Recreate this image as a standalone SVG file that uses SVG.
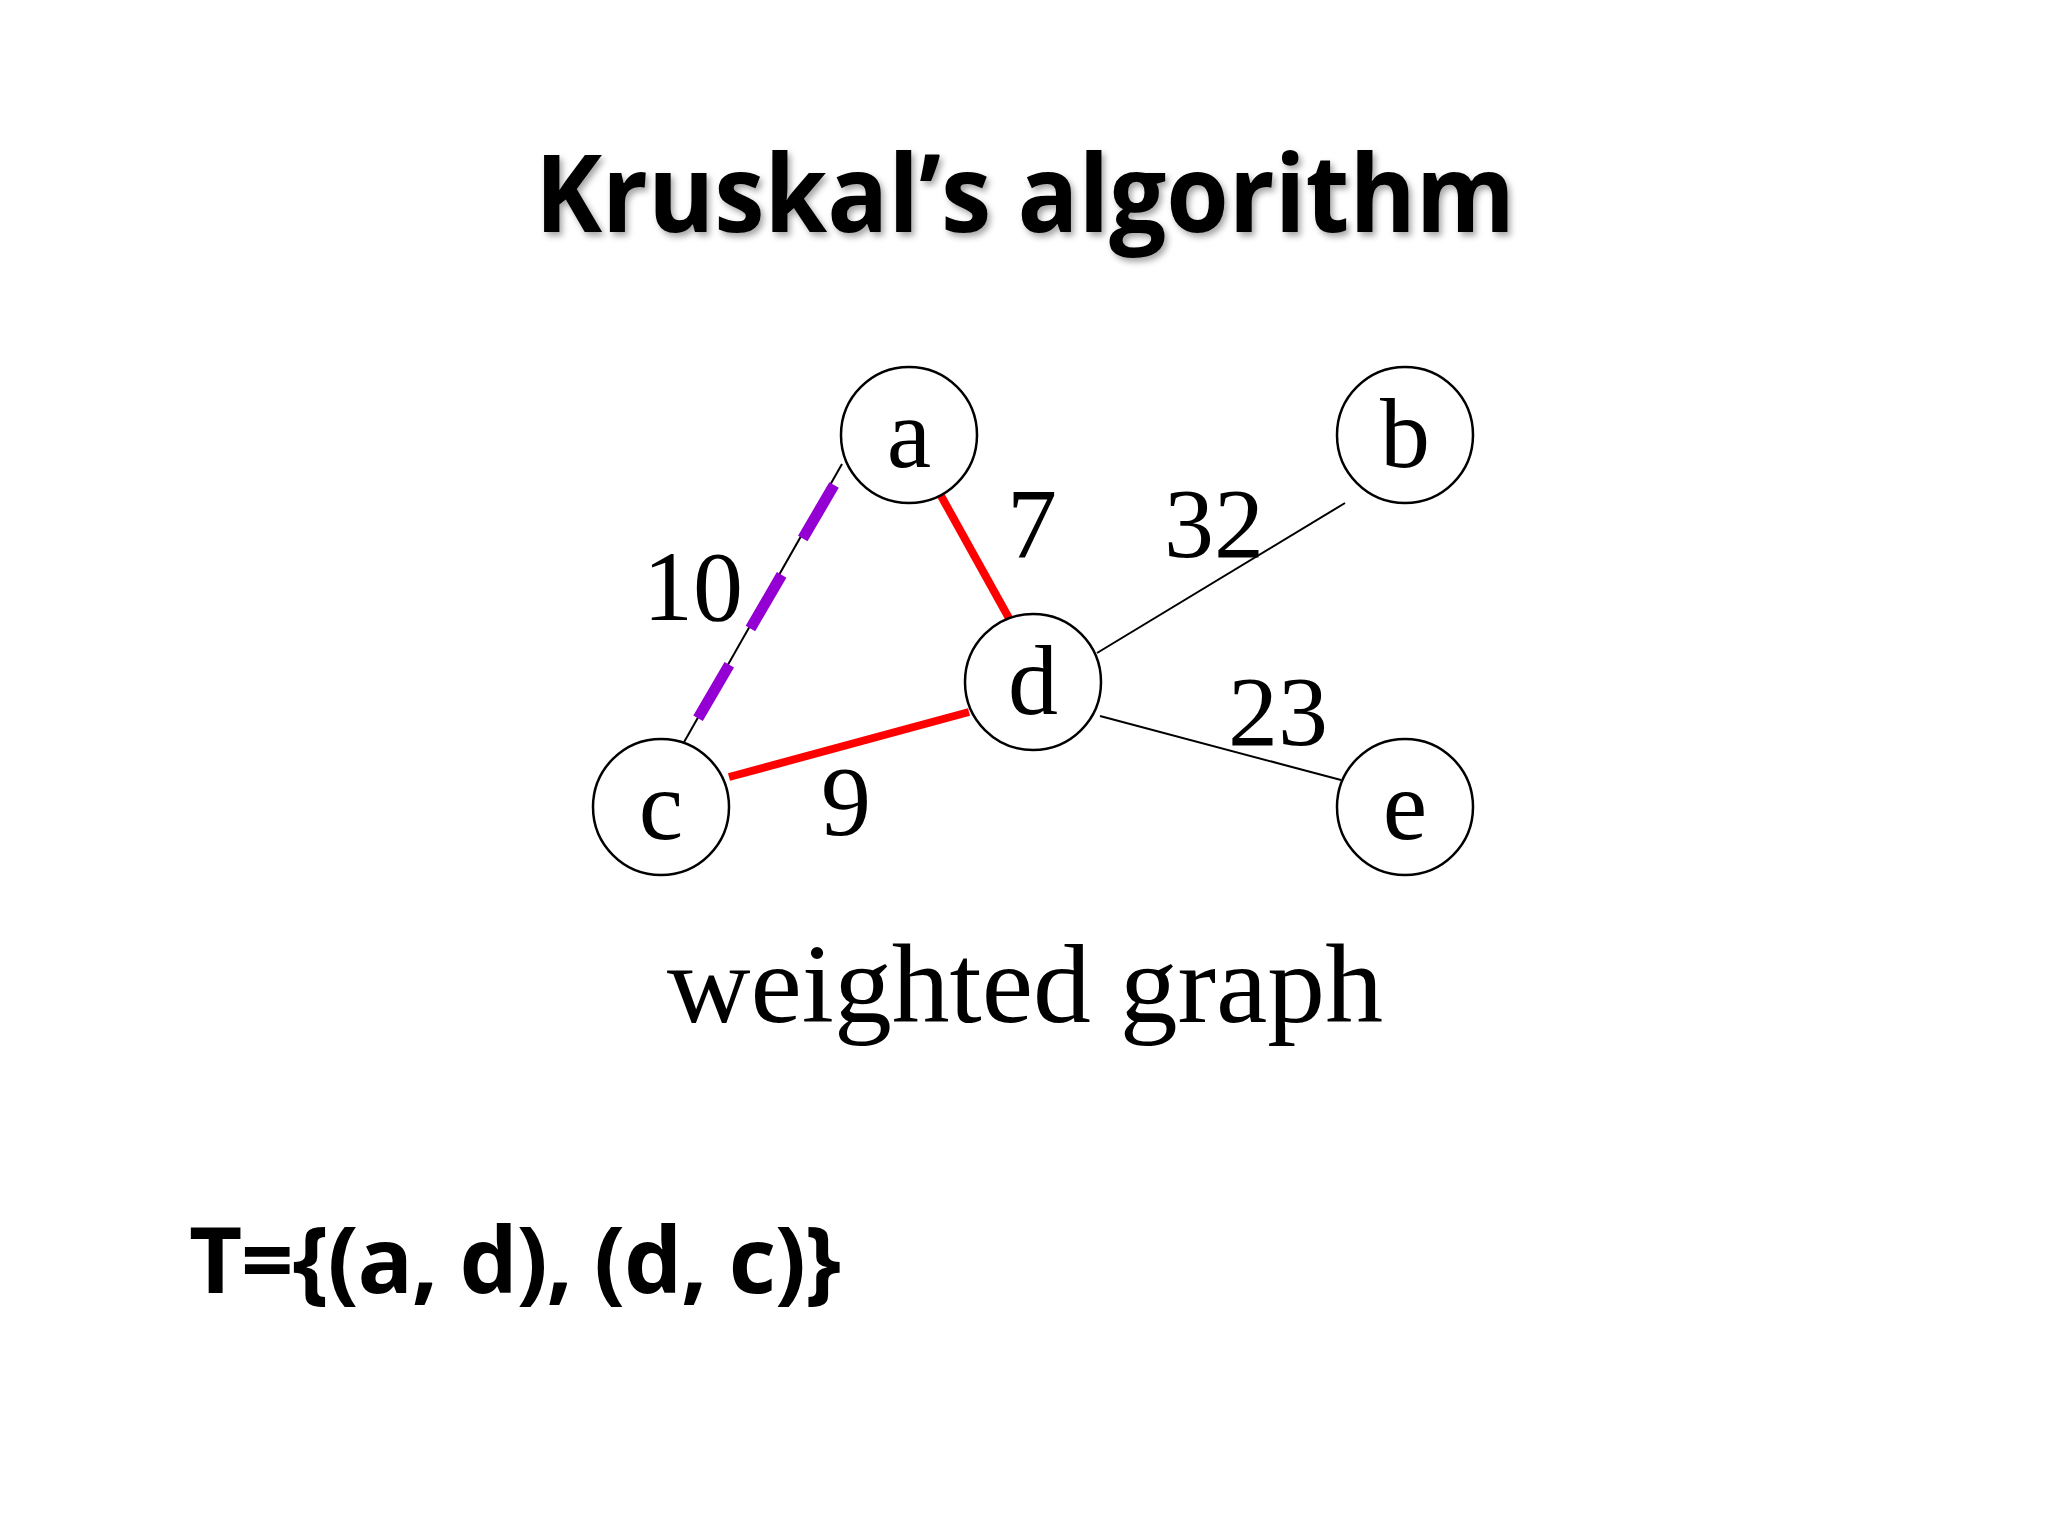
<svg xmlns="http://www.w3.org/2000/svg" width="2048" height="1536" viewBox="0 0 2048 1536">
<defs>
<style>
.node{fill:#fff;stroke:#000;stroke-width:2.5}
.nl{font-family:"Liberation Serif",serif;font-size:100px;text-anchor:middle}
.w{font-family:"Liberation Serif",serif;font-size:100px;text-anchor:middle}
.thin{stroke:#000;stroke-width:2;fill:none}
.red{stroke:#f00;stroke-width:8;fill:none}
</style>
<filter id="sh"><feDropShadow dx="3" dy="4" stdDeviation="3" flood-color="#000" flood-opacity="0.35"/></filter>
</defs>
<rect width="2048" height="1536" fill="#fff"/>
<text x="1025" y="232" font-family="'Open Sans',sans-serif" font-weight="bold" font-size="108" text-anchor="middle" textLength="980" lengthAdjust="spacingAndGlyphs" filter="url(#sh)">Kruskal’s algorithm</text>
<g id="connectors">
<line class="thin" x1="842" y1="464" x2="679" y2="751"/>
<line x1="834" y1="485" x2="679" y2="751" stroke="#9400D3" stroke-width="11" stroke-dasharray="62,42"/>
<line class="red" x1="940" y1="494" x2="1010" y2="620"/>
<line class="red" x1="729" y1="777" x2="969" y2="712"/>
<line class="thin" x1="1097" y1="653" x2="1345" y2="503"/>
<line class="thin" x1="1100" y1="716" x2="1341" y2="780"/>
</g>
<g id="labels">
<text class="w" x="693" y="620">10</text>
<text class="w" x="1032" y="557">7</text>
<text class="w" x="1214" y="557">32</text>
<text class="w" x="1278" y="745">23</text>
<text class="w" x="846" y="835">9</text>
</g>
<g id="a"><circle class="node" cx="909" cy="435" r="68"/><text class="nl" x="909" y="467">a</text></g>
<g id="b"><circle class="node" cx="1405" cy="435" r="68"/><text class="nl" x="1405" y="467">b</text></g>
<g id="d"><circle class="node" cx="1033" cy="682" r="68"/><text class="nl" x="1033" y="714">d</text></g>
<g id="c"><circle class="node" cx="661" cy="807" r="68"/><text class="nl" x="661" y="839">c</text></g>
<g id="e"><circle class="node" cx="1405" cy="807" r="68"/><text class="nl" x="1405" y="839">e</text></g>
<text x="1025" y="1022" font-family="'Liberation Serif',serif" font-size="112" text-anchor="middle" textLength="716" lengthAdjust="spacingAndGlyphs">weighted graph</text>
<text x="189" y="1293" font-family="'Open Sans',sans-serif" font-weight="bold" font-size="92" textLength="652">T={(a, d), (d, c)}</text>
</svg>
